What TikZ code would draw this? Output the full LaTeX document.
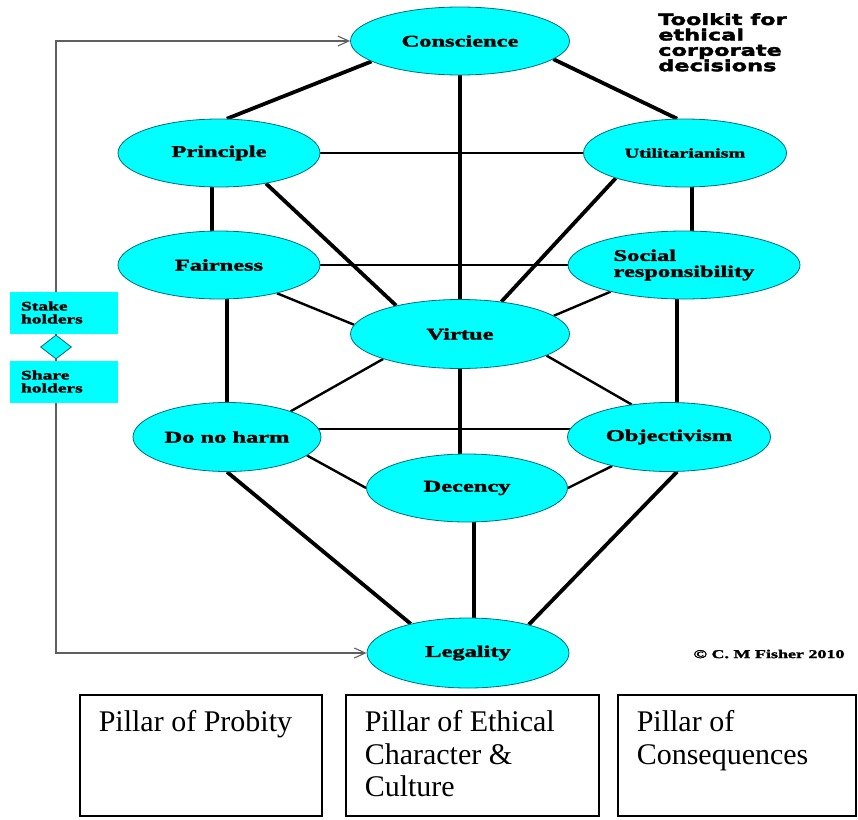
\documentclass[tikz,border=0pt]{standalone}
\usepackage{fontspec}
\usetikzlibrary{shapes.geometric,arrows.meta,backgrounds}
\setmainfont{Liberation Serif}
\newfontfamily\nodefont{Liberation Serif}[FakeStretch=1.5,FakeBold=2]
\newfontfamily\titlefont{DejaVu Sans}[FakeStretch=1.45,FakeBold=2.5]
\definecolor{nodecyan}{RGB}{0,255,255}
\definecolor{nodeedge}{RGB}{0,110,125}
\definecolor{arrowgray}{RGB}{95,95,95}
\begin{document}
\begin{tikzpicture}[x=1pt,y=-1pt,
    idea/.style={ellipse,draw=nodeedge,line width=0.8pt,fill=nodecyan,inner sep=0pt,
      minimum width=202pt,minimum height=68pt,
      font=\nodefont\bfseries\fontsize{16.3}{16}\selectfont},
    link/.style={line width=3.8pt},
    thinlink/.style={line width=2.4pt},
    arrowline/.style={draw=arrowgray,line width=1.1pt,-{Straight Barb[length=11pt,width=10pt]}},
    holder/.style={fill=nodecyan,minimum width=108pt,minimum height=42pt,inner sep=0pt,
      text width=86pt,align=left,font=\nodefont\bfseries\fontsize{13}{13}\selectfont},
    pillar/.style={draw,line width=1.5pt,anchor=north west,inner xsep=19pt,inner ysep=16pt,
      text height=21pt,text depth=68pt,font=\fontsize{30}{32.5}\selectfont}]
    \useasboundingbox (0,0) rectangle (858,819);
    % the ten tools
    \node[idea,minimum width=219pt] (conscience) at (460,41) {Conscience};
    \node[idea] (principle) at (219,153) {Principle};
    \node[idea,minimum width=203pt,font=\nodefont\bfseries\fontsize{13.4}{14}\selectfont] (util) at (685,153) {Utilitarianism};
    \node[idea] (fairness) at (219,265) {Fairness};
    \node[idea,minimum width=232pt,align=left] (social) at (684,265) {Social\\responsibility};
    \node[idea,minimum width=219pt,minimum height=69pt] (virtue) at (460,334) {Virtue};
    \node[idea,minimum width=188pt,minimum height=69pt] (harm) at (227,437) {Do no harm};
    \node[idea,minimum width=203pt,minimum height=69pt] (objectivism) at (669,437) {Objectivism};
    \node[idea,minimum width=201pt] (decency) at (467,488) {Decency};
    \node[idea,minimum height=70pt] (legality) at (468,653) {Legality};
    % stake and share holders
    \node[holder] (stake) at (64,312.5) {Stake\\holders};
    \node[diamond,fill=nodecyan,draw=nodeedge,line width=0.8pt,inner sep=0pt,
      minimum width=31pt,minimum height=24pt] (junction) at (56,347) {};
    \node[holder] (share) at (64,381.5) {Share\\holders};
    \node[anchor=north west,inner sep=0pt,align=left,
      font=\titlefont\bfseries\fontsize{15.5}{15.4}\selectfont] (toolkit) at (658,13)
      {Toolkit for\\ethical\\corporate\\decisions};
    \node[font=\nodefont\bfseries\fontsize{12}{12}\selectfont] (copyright) at (769,654) {© C. M Fisher 2010};
    % pillars
    \node[pillar] (probity) at (79,694) {\parbox[t]{204pt}{\raggedright Pillar of Probity}};
    \node[pillar] (character) at (345,694) {\parbox[t]{215pt}{\raggedright Pillar of Ethical\\Character \&\\Culture}};
    \node[pillar] (consequences) at (617,694) {\parbox[t]{200pt}{\raggedright Pillar of\\Consequences}};
    \begin{scope}[on background layer]
      \draw[link] (conscience.193) -- (principle.77);
      \draw[link] (conscience) -- (virtue);
      \draw[link] (conscience.349) -- (util.103);
      \draw[thinlink] (principle) -- (util);
      \draw[link] ([xshift=-7pt]principle.center) -- ([xshift=-7pt]fairness.center);
      \draw[link] (principle.327) -- (virtue.156);
      \draw[link] ([xshift=7pt]util.center) -- ([xshift=8pt]social.center);
      \draw[link] (util.200) -- (virtue.38);
      \draw[thinlink] (fairness) -- (social);
      \draw[thinlink] (fairness.334) -- (virtue.175);
      \draw[thinlink] (social.200) -- (virtue.11);
      \draw[link] ([xshift=8pt]fairness.center) -- (harm);
      \draw[link] ([xshift=-7pt]social.center) -- ([xshift=8pt]objectivism.center);
      \draw[thinlink] (virtue.198) -- (harm.22);
      \draw[thinlink] (virtue.346) -- (objectivism.139);
      \draw[link] (virtue) -- (virtue |- decency);
      \draw[thinlink] ([yshift=8pt]harm.center) -- ([yshift=8pt]objectivism.center);
      \draw[thinlink] (harm.347) -- (decency.west);
      \draw[thinlink] (objectivism.207) -- (decency.east);
      \draw[link] (harm.south) -- (legality.153);
      \draw[link] ([xshift=7pt]decency.center) -- ([xshift=6pt]legality.center);
      \draw[link] (objectivism.283) -- (legality.25);
      \draw[arrowline] (junction) |- (conscience.west);
      \draw[arrowline] (junction) |- (legality.west);
    \end{scope}
  \end{tikzpicture}
\end{document}
